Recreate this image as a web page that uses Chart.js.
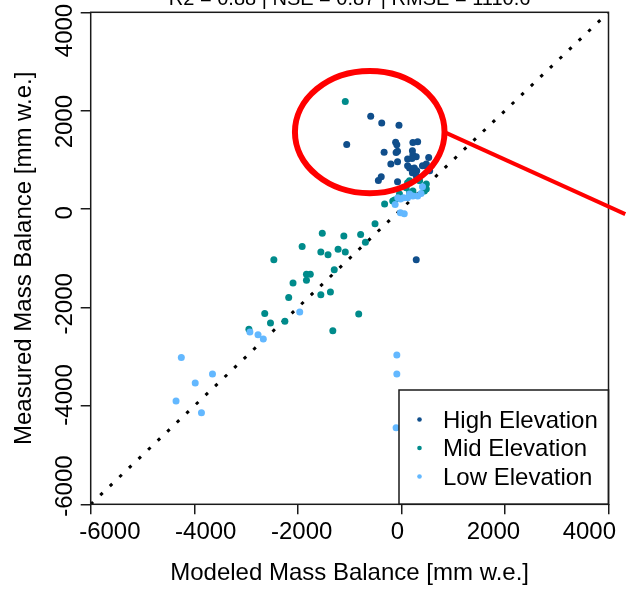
<!DOCTYPE html>
<html>
<head>
<meta charset="utf-8">
<script src="https://cdn.jsdelivr.net/npm/chart.js@4/dist/chart.umd.min.js"></script>
<style>
  body { margin: 0; background: #fff; }
  canvas { display: block; }
</style>
</head>
<body>
<canvas id="myChart" width="626" height="591"></canvas>
<script>
// [modeled, measured] in mm w.e.
var highElevation = [[-560,2120],[-330,1970],[30,1920],[-1060,1500],[-40,1550],[-15,1490],[0,1350],[-280,1330],
  [320,1540],[420,1560],[310,1360],[320,1270],[390,1230],[210,1180],[300,1190],[650,1210],[0,1120],[-140,1070],
  [250,980],[350,980],[310,880],[400,920],[600,1030],[-340,790],[-400,710],[0,680],[520,1030],[600,1070],
  [390,810],[670,920],[210,1030],[-30,1320],[390,-1030]]
var midElevation = [[-1090,2440],[-470,-240],[-1570,-450],[-1120,-510],[-770,-480],[-670,-650],[-1990,-740],
  [-1600,-860],[-1450,-920],[-1240,-800],[-1090,-860],[-2580,-1030],[-1900,-1350],[-1820,-1350],[-1900,-1480],
  [-1320,-1250],[-2180,-1540],[-2270,-1860],[-1600,-1800],[-1400,-1740],[-810,-2220],[-2770,-2210],[-2650,-2420],
  [-2350,-2380],[-3100,-2560],[-1350,-2590],[-270,190],[-100,260],[-60,280],[40,410],[180,550],[250,440],
  [320,480],[250,700],[460,700],[600,630],[600,520],[210,660],[560,480]]
var lowElevation = [[-2040,-2180],[-3080,-2620],[-2910,-2680],[-2800,-2770],[-4510,-3180],[-3860,-3540],
  [-4220,-3740],[-4620,-4130],[-4090,-4390],[-15,-3120],[-15,-3540],[-30,-4720],[60,0],[140,-20],[5,330],
  [60,300],[125,330],[210,330],[320,370],[420,370],[490,420],[520,570],[250,410],[-50,180]]

var seriesNames = ['High Elevation', 'Mid Elevation', 'Low Elevation']
var seriesColors = ['#104E8B', '#008B8B', '#63B8FF']

var axisMin = -6400
var axisMax = 4400
var tickValues = [-6000, -4000, -2000, 0, 2000, 4000]
var oneToOne = [-6400, 4400]

var statsTitle = 'R2 = 0.88 | NSE = 0.87 | RMSE = 1110.6'
var xTitle = 'Modeled Mass Balance [mm w.e.]'
var yTitle = 'Measured Mass Balance [mm w.e.]'

// red highlight: ellipse centre / radii and pointer line, data units
var circleCenter = [-580, 1770]
var circleRadius = [1560, 1340]
var pointerLine = [[1000, 1760], [4750, -30]]

var font = '"Liberation Sans", Arial, sans-serif'

function toPoints(arr) {
  return arr.map(function (p) { return { x: p[0], y: p[1] } })
}

var sets = [highElevation, midElevation, lowElevation]
var datasets = sets.map(function (s, i) {
  return {
    label: seriesNames[i],
    data: toPoints(s),
    backgroundColor: seriesColors[i],
    pointRadius: 3.5,
    pointBorderWidth: 0,
    order: 3 - i
  }
})
datasets.push({
  type: 'line',
  data: oneToOne.map(function (v) { return { x: v, y: v } }),
  borderColor: '#000',
  borderWidth: 3,
  borderDash: [3.3, 9.9],
  pointRadius: 0,
  fill: false,
  order: 10
})

var legendPlugin = {
  id: 'rlegend',
  afterDatasetsDraw: function (chart) {
    var c = chart.ctx
    var a = chart.chartArea
    c.save()
    c.fillStyle = '#fff'
    c.fillRect(399, 390, a.right - 399, a.bottom - 390)
    c.strokeStyle = '#1a1a1a'
    c.lineWidth = 1.5
    c.strokeRect(399, 390, a.right - 399, a.bottom - 390)
    c.font = '24px ' + font
    c.textAlign = 'left'
    c.textBaseline = 'alphabetic'
    for (var i = 0; i < seriesNames.length; i++) {
      var yy = 419.5 + i * 28.5
      c.fillStyle = seriesColors[i]
      c.beginPath()
      c.arc(419.5, yy, 2.3, 0, Math.PI * 2)
      c.fill()
      c.fillStyle = '#000'
      c.fillText(seriesNames[i], 443, yy + 8)
    }
    c.restore()
  }
}

var framePlugin = {
  id: 'rframe',
  afterDraw: function (chart) {
    var c = chart.ctx
    var a = chart.chartArea
    var xs = chart.scales.x
    var ys = chart.scales.y
    c.save()
    c.strokeStyle = '#1a1a1a'
    c.lineWidth = 1.5
    c.strokeRect(a.left, a.top, a.right - a.left, a.bottom - a.top)

    c.fillStyle = '#000'
    c.font = '24px ' + font
    c.textAlign = 'center'
    c.textBaseline = 'alphabetic'
    tickValues.forEach(function (v) {
      c.fillText(String(v), xs.getPixelForValue(v), a.bottom + 35)
    })
    c.fillText(xTitle, (a.left + a.right) / 2, a.bottom + 76)
    tickValues.forEach(function (v) {
      c.save()
      c.translate(a.left - 19, ys.getPixelForValue(v))
      c.rotate(-Math.PI / 2)
      c.fillText(String(v), 0, 0)
      c.restore()
    })
    c.save()
    c.translate(31, (a.top + a.bottom) / 2)
    c.rotate(-Math.PI / 2)
    c.fillText(yTitle, 0, 0)
    c.restore()

    c.font = '20px ' + font
    c.fillText(statsTitle, (a.left + a.right) / 2, 5)

    // red highlight
    var cx = xs.getPixelForValue(circleCenter[0])
    var cy = ys.getPixelForValue(circleCenter[1])
    var rx = Math.abs(xs.getPixelForValue(circleCenter[0] + circleRadius[0]) - cx)
    var ry = Math.abs(ys.getPixelForValue(circleCenter[1] + circleRadius[1]) - cy)
    c.strokeStyle = '#ff0000'
    c.lineWidth = 6
    c.beginPath()
    c.ellipse(cx, cy, rx, ry, 0, 0, Math.PI * 2)
    c.stroke()
    c.lineWidth = 4
    c.beginPath()
    c.moveTo(xs.getPixelForValue(pointerLine[0][0]), ys.getPixelForValue(pointerLine[0][1]))
    c.lineTo(xs.getPixelForValue(pointerLine[1][0]), ys.getPixelForValue(pointerLine[1][1]))
    c.stroke()
    c.restore()
  }
}

function axisOpts(isX) {
  return {
    type: 'linear',
    min: axisMin,
    max: axisMax,
    afterFit: function (s) {
      if (isX) s.height = 86.7
      else s.width = 90.7
    },
    ticks: { display: false, stepSize: 2000, includeBounds: false },
    grid: { drawOnChartArea: false, drawTicks: true, tickLength: 10, color: '#1a1a1a', lineWidth: 1.5 },
    border: { display: false }
  }
}

var ctx = document.getElementById('myChart').getContext('2d')
var myChart = new Chart(ctx, {
  type: 'scatter',
  data: { datasets: datasets },
  options: {
    responsive: false,
    animation: false,
    layout: { padding: { left: 0, right: 17.5, top: 12.3, bottom: 0 } },
    plugins: {
      legend: { display: false },
      tooltip: { enabled: false },
      title: { display: false }
    },
    scales: { x: axisOpts(true), y: axisOpts(false) }
  },
  plugins: [legendPlugin, framePlugin]
})
</script>
</body>
</html>
